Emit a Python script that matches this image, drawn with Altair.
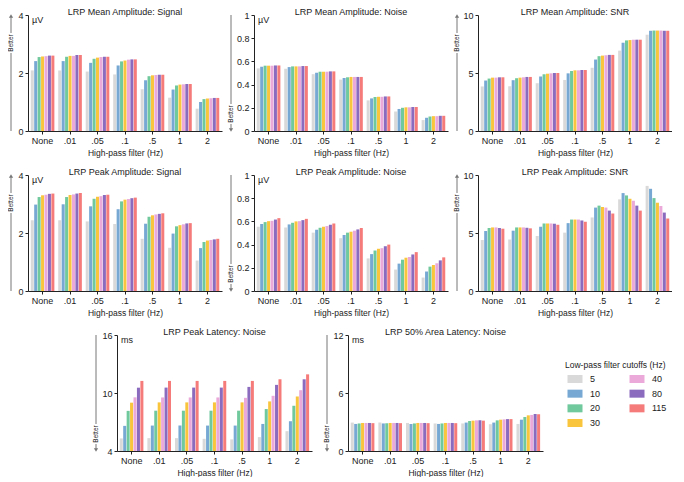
import altair as alt
import pandas as pd

hp_labels = ["None", ".01", ".05", ".1", ".5", "1", "2"]
lp_labels = ["5", "10", "20", "30", "40", "80", "115"]
lp_colors = ["#d9d9d9", "#76a8d3", "#70c89d", "#f8c53d", "#eaa9d8", "#8b6bbe", "#f57b7a"]

mean_signal = [
    [2.09, 2.41, 2.55, 2.57, 2.58, 2.60, 2.60],
    [2.09, 2.41, 2.56, 2.59, 2.59, 2.62, 2.62],
    [2.05, 2.35, 2.49, 2.53, 2.55, 2.56, 2.56],
    [1.95, 2.26, 2.40, 2.43, 2.46, 2.47, 2.47],
    [1.44, 1.75, 1.89, 1.92, 1.93, 1.94, 1.94],
    [1.15, 1.43, 1.57, 1.60, 1.61, 1.62, 1.62],
    [0.77, 1.00, 1.10, 1.12, 1.13, 1.14, 1.14],
]
mean_noise = [
    [0.540, 0.554, 0.563, 0.563, 0.563, 0.565, 0.565],
    [0.537, 0.551, 0.557, 0.557, 0.557, 0.560, 0.560],
    [0.490, 0.503, 0.511, 0.511, 0.511, 0.514, 0.514],
    [0.443, 0.457, 0.463, 0.466, 0.466, 0.466, 0.466],
    [0.264, 0.281, 0.293, 0.295, 0.295, 0.298, 0.298],
    [0.168, 0.190, 0.200, 0.204, 0.204, 0.207, 0.207],
    [0.094, 0.114, 0.125, 0.128, 0.128, 0.131, 0.131],
]
mean_snr = [
    [3.84, 4.35, 4.52, 4.60, 4.60, 4.63, 4.63],
    [3.86, 4.38, 4.55, 4.60, 4.63, 4.66, 4.66],
    [4.12, 4.69, 4.89, 4.94, 4.97, 5.00, 5.00],
    [4.40, 4.97, 5.17, 5.23, 5.23, 5.26, 5.26],
    [5.45, 6.16, 6.45, 6.50, 6.53, 6.56, 6.56],
    [6.93, 7.61, 7.81, 7.84, 7.87, 7.87, 7.87],
    [8.30, 8.64, 8.66, 8.66, 8.66, 8.64, 8.64],
]
peak_signal = [
    [2.44, 2.98, 3.24, 3.30, 3.32, 3.35, 3.36],
    [2.44, 2.99, 3.24, 3.31, 3.33, 3.36, 3.38],
    [2.40, 2.92, 3.18, 3.25, 3.27, 3.31, 3.32],
    [2.31, 2.82, 3.09, 3.15, 3.17, 3.20, 3.22],
    [1.80, 2.32, 2.56, 2.61, 2.64, 2.66, 2.68],
    [1.49, 1.98, 2.23, 2.27, 2.30, 2.33, 2.34],
    [1.05, 1.48, 1.69, 1.74, 1.76, 1.78, 1.80],
]
peak_noise = [
    [0.554, 0.577, 0.594, 0.602, 0.605, 0.616, 0.628],
    [0.548, 0.574, 0.588, 0.600, 0.602, 0.611, 0.622],
    [0.503, 0.528, 0.545, 0.554, 0.560, 0.571, 0.582],
    [0.455, 0.483, 0.503, 0.511, 0.520, 0.531, 0.543],
    [0.281, 0.318, 0.349, 0.364, 0.369, 0.386, 0.400],
    [0.185, 0.236, 0.270, 0.287, 0.293, 0.315, 0.335],
    [0.116, 0.168, 0.210, 0.224, 0.239, 0.264, 0.290],
]
peak_snr = [
    [4.40, 5.17, 5.43, 5.48, 5.48, 5.43, 5.37],
    [4.43, 5.20, 5.48, 5.48, 5.48, 5.45, 5.40],
    [4.74, 5.54, 5.82, 5.82, 5.82, 5.80, 5.71],
    [5.03, 5.85, 6.16, 6.16, 6.16, 6.08, 5.97],
    [6.34, 7.19, 7.36, 7.24, 7.19, 6.93, 6.68],
    [7.90, 8.44, 8.24, 7.95, 7.78, 7.36, 6.93],
    [9.06, 8.81, 8.01, 7.61, 7.33, 6.76, 6.25],
]
peak_latency = [
    [5.30, 6.60, 8.15, 9.00, 9.55, 10.55, 11.25],
    [5.33, 6.63, 8.17, 9.03, 9.54, 10.56, 11.25],
    [5.33, 6.63, 8.17, 9.03, 9.54, 10.56, 11.25],
    [5.26, 6.63, 8.17, 9.03, 9.54, 10.56, 11.25],
    [5.20, 6.63, 8.17, 9.03, 9.50, 10.63, 11.25],
    [5.44, 6.80, 8.34, 9.13, 9.71, 10.84, 11.42],
    [6.05, 7.08, 8.68, 9.64, 10.29, 11.42, 11.93],
]
area_latency = [
    [2.94, 2.80, 2.85, 2.90, 2.90, 2.90, 2.88],
    [2.94, 2.85, 2.87, 2.90, 2.90, 2.90, 2.88],
    [2.90, 2.80, 2.85, 2.90, 2.90, 2.90, 2.88],
    [2.85, 2.80, 2.85, 2.90, 2.90, 2.90, 2.88],
    [2.85, 2.94, 3.10, 3.14, 3.17, 3.18, 3.14],
    [2.77, 2.94, 3.17, 3.24, 3.27, 3.30, 3.30],
    [2.80, 3.24, 3.52, 3.69, 3.73, 3.83, 3.80],
]

legend_col = [0, 0, 0, 0, 1, 1, 1]
legend_row = [0, 1, 2, 3, 0, 1, 2]

H = 116
FONT = "Liberation Sans"
TXT = "#222222"
ARROW = "#777777"
one = pd.DataFrame({"a": [0]})


def make_df(values):
    rows = []
    for i, hp in enumerate(hp_labels):
        for j, lp in enumerate(lp_labels):
            rows.append({"hp": hp, "lp": lp, "v": values[i][j]})
    return pd.DataFrame(rows)


def panel(title, values, domain, ticks, unit, up, ax, W):
    df = make_df(values)
    bars = alt.Chart(df).mark_bar().encode(
        x=alt.X("hp:N", sort=hp_labels, title="High-pass filter (Hz)",
                scale=alt.Scale(paddingInner=0.14, paddingOuter=0.1),
                axis=alt.Axis(labelAngle=0, ticks=True)),
        xOffset=alt.XOffset("lp:N", sort=lp_labels, scale=alt.Scale(paddingInner=0.12)),
        y=alt.Y("v:Q", scale=alt.Scale(domain=domain, zero=(domain[0] == 0), nice=False),
                axis=alt.Axis(values=ticks, title=None, labelExpr="'' + datum.value")),
        y2=alt.datum(domain[0]),
        color=alt.Color("lp:N", sort=lp_labels,
                        scale=alt.Scale(domain=lp_labels, range=lp_colors), legend=None),
    )
    unit_txt = alt.Chart(one).mark_text(text=unit, align="left", baseline="middle",
                                        fontSize=9, font=FONT, color=TXT).encode(
        x=alt.value(4), y=alt.value(5))
    if up:
        tc = 28
        r1 = alt.Chart(one).mark_rule(color=ARROW, strokeWidth=1).encode(
            x=alt.value(ax), y=alt.value(2), y2=alt.value(tc - 10))
        r2 = alt.Chart(one).mark_rule(color=ARROW, strokeWidth=1).encode(
            x=alt.value(ax), y=alt.value(tc + 10), y2=alt.value(H))
        tri = alt.Chart(one).mark_point(shape="triangle-up", filled=True, size=18,
                                        color=ARROW, opacity=1).encode(
            x=alt.value(ax), y=alt.value(1))
    else:
        tc = H - 17
        r1 = alt.Chart(one).mark_rule(color=ARROW, strokeWidth=1).encode(
            x=alt.value(ax), y=alt.value(0), y2=alt.value(tc - 10))
        r2 = alt.Chart(one).mark_rule(color=ARROW, strokeWidth=1).encode(
            x=alt.value(ax), y=alt.value(tc + 10), y2=alt.value(H - 2))
        tri = alt.Chart(one).mark_point(shape="triangle-down", filled=True, size=18,
                                        color=ARROW, opacity=1).encode(
            x=alt.value(ax), y=alt.value(H - 1))
    better = alt.Chart(one).mark_text(text="Better", angle=270, fontSize=6.5, font=FONT,
                                      color=TXT, align="center", baseline="middle").encode(
        x=alt.value(ax), y=alt.value(tc))
    return alt.layer(bars, unit_txt, r1, r2, tri, better).properties(
        width=W, height=H,
        title=alt.TitleParams(title, fontSize=9, font=FONT, fontWeight="normal",
                              color=TXT, frame="group", offset=-6))


amp_ticks = [0, 2, 4]
noise_ticks = [0, 0.2, 0.4, 0.6, 0.8, 1]
snr_ticks = [0, 5, 10]
WT = 194
WB = 195

p1 = panel("LRP Mean Amplitude: Signal", mean_signal, [0, 4], amp_ticks, "µV", True, -17, WT)
p2 = panel("LRP Mean Amplitude: Noise", mean_noise, [0, 1], noise_ticks, "µV", False, -23, WT)
p3 = panel("LRP Mean Amplitude: SNR", mean_snr, [0, 10], snr_ticks, "", True, -21, WT)
p4 = panel("LRP Peak Amplitude: Signal", peak_signal, [0, 4], amp_ticks, "µV", True, -17, WT)
p5 = panel("LRP Peak Amplitude: Noise", peak_noise, [0, 1], noise_ticks, "µV", False, -23, WT)
p6 = panel("LRP Peak Amplitude: SNR", peak_snr, [0, 10], snr_ticks, "", True, -21, WT)
p7 = panel("LRP Peak Latency: Noise", peak_latency, [4, 16], [4, 10, 16], "ms", False, -21, WB)
p8 = panel("LRP 50% Area Latency: Noise", area_latency, [0, 12], [0, 6, 12], "ms", False, -21, WB)

ldf = pd.DataFrame({"lp": lp_labels, "col": legend_col, "row": legend_row})
lx = alt.X("col:Q", scale=alt.Scale(domain=[0, 1], range=[20, 82]), axis=None)
ly = alt.Y("row:Q", scale=alt.Scale(domain=[0, 3], range=[44, 88]), axis=None)
sw = alt.Chart(ldf).mark_tick(orient="horizontal", size=15, thickness=8, opacity=1).encode(
    x=lx, y=ly,
    color=alt.Color("lp:N", sort=lp_labels,
                    scale=alt.Scale(domain=lp_labels, range=lp_colors), legend=None))
lt = alt.Chart(ldf).mark_text(align="left", baseline="middle", dx=15, fontSize=9,
                              font=FONT, color=TXT).encode(x=lx, y=ly, text="lp:N")
ltitle = alt.Chart(one).mark_text(text="Low-pass filter cutoffs (Hz)", align="left",
                                  baseline="middle", fontSize=8.5, font=FONT,
                                  color=TXT).encode(x=alt.value(10), y=alt.value(30))
legend = alt.layer(sw, lt, ltitle).properties(width=105, height=H)

spacer = alt.Chart(one).mark_point(opacity=0).encode(
    x=alt.value(0), y=alt.value(0)).properties(width=53, height=H)

row1 = alt.hconcat(p1, p2, p3, spacing=6)
row2 = alt.hconcat(p4, p5, p6, spacing=6)
row3 = alt.hconcat(spacer, p7, p8, legend, spacing=12)

chart = alt.vconcat(row1, row2, row3, spacing=11).properties(padding=0).configure_view(
    stroke=None
).configure_axis(
    labelFont=FONT, titleFont=FONT, labelFontSize=9, titleFontSize=8.5,
    labelColor=TXT, titleColor=TXT, domainColor=TXT, tickColor=TXT,
    grid=False, tickSize=3, labelPadding=2, titlePadding=3, titleFontWeight="normal"
)

chart.save("out.html", embed_options={"renderer": "svg", "actions": False})
